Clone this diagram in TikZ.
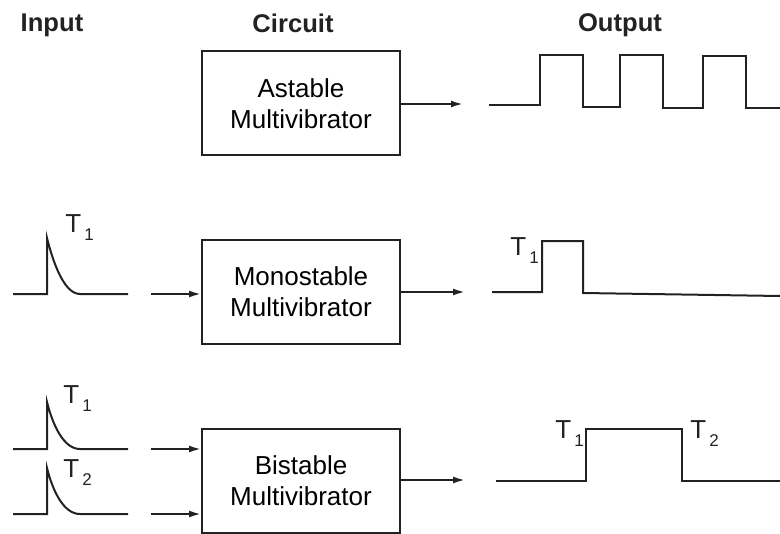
\documentclass[tikz,border=0pt]{standalone}
\usepackage{fontspec}
\setmainfont{Liberation Sans}
\usepackage{xcolor}
\usepackage{tikz}
\usetikzlibrary{calc,arrows.meta}
\definecolor{inkGrey}{HTML}{222222}
\newcommand{\tsub}[1]{T\kern1.5pt\raisebox{-4pt}{\fontsize{8.5}{9}\selectfont #1}}
\tikzset{
  mvbox/.style={rectangle, draw=inkGrey, line width=1pt, align=center, font=\fontsize{13}{15.5}\selectfont, minimum width=99pt, minimum height=52pt, inner sep=0pt},
  sigarrow/.style={-{Latex[length=6pt,width=3.5pt]}, line width=1pt, draw=inkGrey},
  wave/.style={line width=1pt, draw=inkGrey, line join=miter},
  headlabel/.style={font=\fontsize{12.8}{15}\selectfont\bfseries, text=inkGrey, anchor=base, inner sep=0pt},
  tlabel/.style={font=\fontsize{13}{15}\selectfont, text=inkGrey, anchor=base west, inner sep=0pt},
}

\begin{document}
\begin{tikzpicture}[x=0.5pt,y=-0.5pt]
      \useasboundingbox (0,0) rectangle (780,534);

      \node[headlabel] (hin) at (52,32) {Input};
      \node[headlabel] (hcirc) at (293,33) {Circuit};
      \node[headlabel] (hout) at (620,32) {Output};

      \node[mvbox] (astable) at (301,103.5) {Astable \\ Multivibrator};
      \node[mvbox] (mono) at (301,292) {Monostable \\ Multivibrator};
      \node[mvbox] (bistable) at (301,480.5) {Bistable \\ Multivibrator};

      % trigger spikes on the input side
      \foreach \b/\h in {294/56, 449/47, 514/46}
        \draw[wave] (13,\b) -- (47,\b) -- (47,\b-\h) .. controls (53,\b-\h+24) and (64,\b) .. (80,\b) -- (128,\b);
      \node[tlabel] (tmonoin) at (65,232) {\tsub{1}};
      \node[tlabel] (tbiin1) at (63,403) {\tsub{1}};
      \node[tlabel] (tbiin2) at (63,477) {\tsub{2}};

      \coordinate (monoIn) at (151,294);
      \coordinate (biIn1) at (151,449);
      \coordinate (biIn2) at (151,514);
      \draw[sigarrow] (monoIn) -- (monoIn -| mono.west);
      \draw[sigarrow] (biIn1) -- (biIn1 -| bistable.west);
      \draw[sigarrow] (biIn2) -- (biIn2 -| bistable.west);

      \coordinate (astableOut) at (463,104);
      \coordinate (monoOut) at (465,292);
      \coordinate (biOut) at (465,480);
      \draw[sigarrow] (astable.east |- astableOut) -- (astableOut);
      \draw[sigarrow] (mono.east |- monoOut) -- (monoOut);
      \draw[sigarrow] (bistable.east |- biOut) -- (biOut);

      % output waveforms
      \draw[wave] (489,105) -- (540,105) -- (540,55) -- (583,55) -- (583,107) -- (620,107) -- (620,55) -- (663,55) -- (663,108) -- (703,108) -- (703,56) -- (746,56) -- (746,108) -- (780,108);
      \draw[wave] (492,292) -- (542,292) -- (542,241) -- (583,241) -- (583,293) -- (780,296);
      \draw[wave] (496,481) -- (586,481) -- (586,429) -- (682,429) -- (682,481) -- (780,481);
      \node[tlabel] (tmonoout) at (510,255) {\tsub{1}};
      \node[tlabel] (tbiout1) at (555,438) {\tsub{1}};
      \node[tlabel] (tbiout2) at (690,438) {\tsub{2}};
    \end{tikzpicture}
\end{document}
